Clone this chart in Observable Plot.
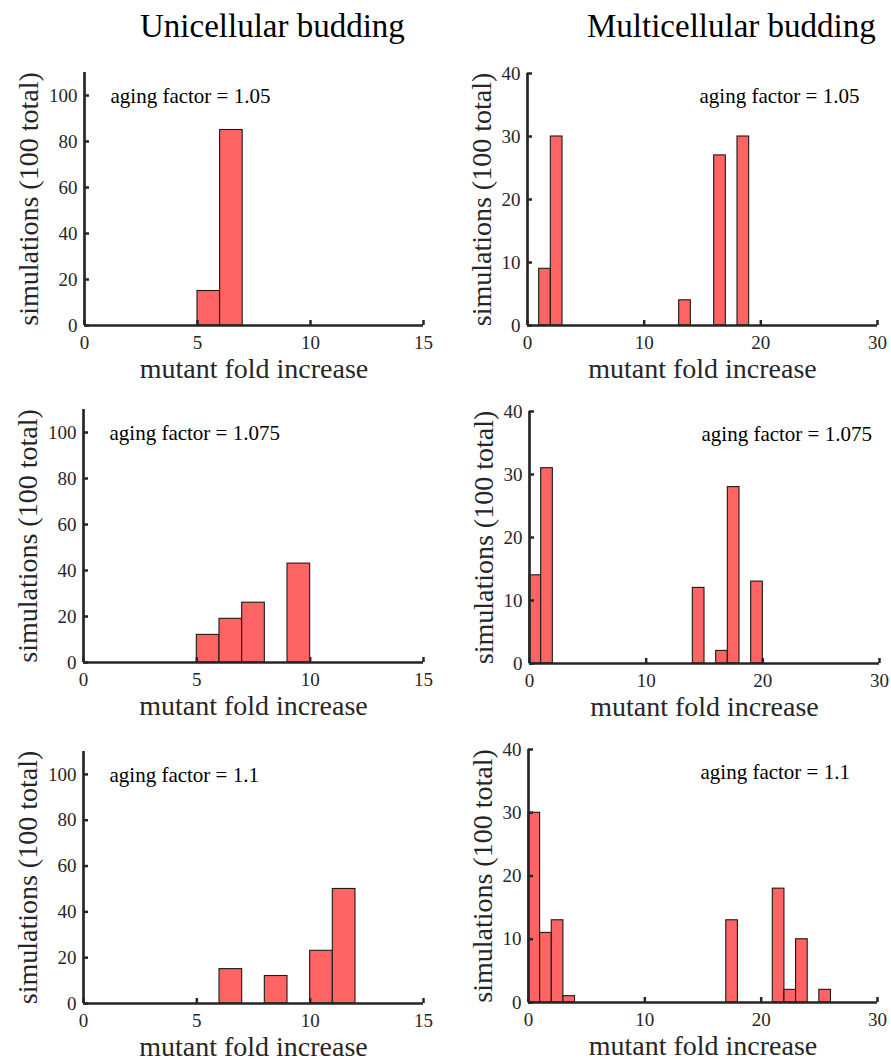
<!DOCTYPE html>
<html>
<head>
<meta charset="utf-8">
<script src="https://cdn.jsdelivr.net/npm/d3@7"></script>
<script src="https://cdn.jsdelivr.net/npm/@observablehq/plot@0.6"></script>
<style>
  html, body { margin: 0; padding: 0; background: #fff; }
  #root { position: relative; width: 891px; height: 1061px; overflow: hidden; font-family: "Liberation Serif", serif; }
  .title { position: absolute; top: 6px; font-size: 33px; color: #000; white-space: nowrap; line-height: 40px; }
  .panel { position: absolute; }
  .panel svg, .panel svg text { font-family: "Liberation Serif", serif !important; }
</style>
</head>
<body>
<div id="root"></div>
<script>
// ---- Data (bin width 1; bin start = lower edge of bin) ----
const titles = ["Unicellular budding", "Multicellular budding"];
const agingFactors = ["1.05", "1.075", "1.1"];
const xLabel = "mutant fold increase";
const yLabel = "simulations (100 total)";

// Unicellular budding
const uni105Bins = [5, 6];
const uni105Counts = [15, 85];
const uni1075Bins = [5, 6, 7, 9];
const uni1075Counts = [12, 19, 26, 43];
const uni11Bins = [6, 8, 10, 11];
const uni11Counts = [15, 12, 23, 50];

// Multicellular budding
const multi105Bins = [1, 2, 13, 16, 18];
const multi105Counts = [9, 30, 4, 27, 30];
const multi1075Bins = [0, 1, 14, 16, 17, 19];
const multi1075Counts = [14, 31, 12, 2, 28, 13];
const multi11Bins = [0, 1, 2, 3, 17, 21, 22, 23, 25];
const multi11Counts = [30, 11, 13, 1, 13, 18, 2, 10, 2];

// Axes
const uniXDomain = [0, 15];
const uniXTicks = [0, 5, 10, 15];
const uniYDomain = [0, 110];
const uniYTicks = [0, 20, 40, 60, 80, 100];
const multiXDomain = [0, 30];
const multiXTicks = [0, 10, 20, 30];
const multiYDomain = [0, 40];
const multiYTicks = [0, 10, 20, 30, 40];

// ---- Layout (pixel frames: left, right, top, bottom) ----
const layout = [
  {col: 0, row: 0, frame: [84, 423, 72, 325], svgTop: 52, svgH: 338},
  {col: 0, row: 1, frame: [83, 423, 409, 662], svgTop: 390, svgH: 338},
  {col: 0, row: 2, frame: [83, 423, 751, 1003], svgTop: 728, svgH: 333},
  {col: 1, row: 0, frame: [527, 877, 73, 325], svgTop: 52, svgH: 338},
  {col: 1, row: 1, frame: [529, 879, 411, 663], svgTop: 390, svgH: 338},
  {col: 1, row: 2, frame: [528, 877, 749, 1002], svgTop: 728, svgH: 333}
];
const colLeft = [0, 445];
const colWidth = [445, 446];

const series = [
  [[uni105Bins, uni105Counts], [uni1075Bins, uni1075Counts], [uni11Bins, uni11Counts]],
  [[multi105Bins, multi105Counts], [multi1075Bins, multi1075Counts], [multi11Bins, multi11Counts]]
];

const ink = "#262626";
const barFill = "#ff6464";
const font = "Liberation Serif";

const root = document.getElementById("root");

// Titles
const titleX = [140, 587];
titles.forEach((t, i) => {
  const d = document.createElement("div");
  d.className = "title";
  d.style.left = titleX[i] + "px";
  d.textContent = t;
  root.appendChild(d);
});

for (const L of layout) {
  const uni = L.col === 0;
  const [bins, counts] = series[L.col][L.row];
  const data = bins.map((b, i) => ({x1: b, x2: b + 1, y: counts[i]}));
  const left = colLeft[L.col], width = colWidth[L.col];
  const [fl, fr, ft, fb] = L.frame;
  const marginLeft = fl - left;
  const marginRight = left + width - fr;
  const marginTop = ft - L.svgTop;
  const marginBottom = L.svgTop + L.svgH - fb;
  const frameW = fr - fl, frameH = fb - ft;
  const xTicks = uni ? uniXTicks : multiXTicks;
  const yTicks = uni ? uniYTicks : multiYTicks;
  const annDx = uni ? 26 : 172;
  const annDy = uni ? 24 : 23;

  const chart = Plot.plot({
    width, height: L.svgH,
    marginLeft, marginRight, marginTop, marginBottom,
    style: {fontFamily: font, background: "transparent", color: ink, overflow: "visible"},
    x: {domain: uni ? uniXDomain : multiXDomain, axis: null},
    y: {domain: uni ? uniYDomain : multiYDomain, axis: null},
    marks: [
      Plot.rectY(data, {x1: "x1", x2: "x2", y: "y", fill: barFill, stroke: "#1a1a1a", strokeWidth: 1.1}),
      // inward ticks
      Plot.tickX(xTicks, {x: d => d, insetTop: frameH - 5, stroke: ink, strokeWidth: 2.5}),
      Plot.tickY(yTicks, {y: d => d, insetRight: frameW - 5, stroke: ink, strokeWidth: 2.5}),
      // axis lines
      Plot.ruleX([0], {stroke: ink, strokeWidth: 2.7}),
      Plot.ruleY([0], {stroke: ink, strokeWidth: 2.7}),
      // tick labels
      Plot.text(xTicks, {x: d => d, frameAnchor: "bottom", dy: 17, lineAnchor: "middle", textAnchor: "middle", fontFamily: font, fontSize: 19, fill: ink, text: d => String(d)}),
      Plot.text(yTicks, {y: d => d, frameAnchor: "left", dx: -7, lineAnchor: "middle", textAnchor: "end", fontFamily: font, fontSize: 19, fill: ink, text: d => String(d)}),
      // axis labels
      Plot.text([xLabel], {frameAnchor: "bottom", dy: 44, lineAnchor: "middle", textAnchor: "middle", fontFamily: font, fontSize: 28, fill: ink}),
      Plot.text([yLabel], {frameAnchor: "left", dx: uni ? -55 : -45, rotate: -90, lineAnchor: "middle", textAnchor: "middle", fontFamily: font, fontSize: 28, fill: ink}),
      // annotation
      Plot.text(["aging factor = " + agingFactors[L.row]], {frameAnchor: "top-left", dx: annDx, dy: annDy, lineAnchor: "middle", textAnchor: "start", fontFamily: font, fontSize: 21, fill: "#000"})
    ]
  });
  chart.setAttribute("font-family", font);
  const wrap = document.createElement("div");
  wrap.className = "panel";
  wrap.style.left = left + "px";
  wrap.style.top = L.svgTop + "px";
  wrap.appendChild(chart);
  root.appendChild(wrap);
}
</script>
</body>
</html>
